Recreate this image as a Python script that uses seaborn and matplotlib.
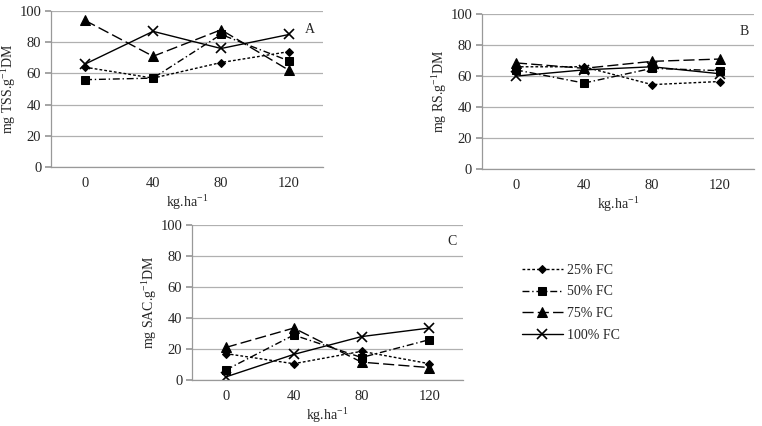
import numpy as np
import pandas as pd
import matplotlib
matplotlib.use('Agg')
import matplotlib.pyplot as plt
import seaborn as sns

# Data
doses = ['0', '40', '80', '120']
series = ['25% FC', '50% FC', '75% FC', '100% FC']

tss_25 = [64, 57, 67, 74]
tss_50 = [56, 57, 85, 68]
tss_75 = [94, 71, 88, 62]
tss_100 = [66, 87, 76, 85]

rs_25 = [66, 66, 54.5, 56.5]
rs_50 = [64, 55.5, 65, 63.5]
rs_75 = [68.5, 65, 69.5, 71]
rs_100 = [60, 64, 66, 61.5]

sac_25 = [17, 10.5, 18.5, 10.5]
sac_50 = [6.5, 29, 14.5, 26]
sac_75 = [21, 33.5, 11.5, 8]
sac_100 = [2, 16.5, 28, 33.5]

sns.set_theme(style='white')
plt.rcParams['font.family'] = ['Liberation Serif', 'DejaVu Serif']
plt.rcParams['mathtext.fontset'] = 'custom'
plt.rcParams['mathtext.rm'] = 'Liberation Serif'

styles = {
    '25% FC': dict(marker='D', linestyle=(0, (2, 1.5)), markersize=4.5),
    '50% FC': dict(marker='s', linestyle=(0, (5, 2, 1, 2)), markersize=6),
    '75% FC': dict(marker='^', linestyle=(0, (8, 3)), markersize=6.5),
    '100% FC': dict(marker='x', linestyle='-', markersize=7, markeredgewidth=1.2),
}

panels = [
    ('A', 'mg TSS.g$^{\\mathregular{-1}}$DM', [tss_25, tss_50, tss_75, tss_100], [0.067, 0.608, 0.357, 0.366], (0.97, 0.88)),
    ('B', 'mg RS.g$^{\\mathregular{-1}}$DM', [rs_25, rs_50, rs_75, rs_100], [0.6325, 0.603, 0.357, 0.364], (0.98, 0.89)),
    ('C', 'mg SAC.g$^{\\mathregular{-1}}$DM', [sac_25, sac_50, sac_75, sac_100], [0.252, 0.108, 0.356, 0.364], (0.975, 0.89)),
]

fig = plt.figure(figsize=(7.62, 4.26), dpi=100)
x = np.arange(len(doses))
handles = []
for letter, ylabel, values, pos, lpos in panels:
    ax = fig.add_axes(pos)
    for name, vals in zip(series, values):
        sns.lineplot(x=x, y=vals, ax=ax, color='black', linewidth=1.0,
                     markeredgecolor='black', label=name, **styles[name])
    if letter == 'A':
        handles, labels = ax.get_legend_handles_labels()
    ax.get_legend().remove()
    ax.set_xlim(-0.5, 3.5)
    ax.set_ylim(0, 100)
    ax.set_yticks([0, 20, 40, 60, 80, 100])
    ax.set_xticks(x)
    ax.set_xticklabels(doses)
    ax.set_xticks([-0.5, 0.5, 1.5, 2.5, 3.5], minor=True)
    ax.tick_params(axis='x', which='major', length=0, labelsize=10.5, pad=7)
    ax.tick_params(axis='x', which='minor', length=4, color='#999999', direction='out')
    ax.tick_params(axis='y', length=4, color='#999999', direction='out', labelsize=10.5, left=True, pad=3)
    ax.grid(axis='y', color='#b0b0b0', linewidth=0.9)
    ax.set_axisbelow(True)
    for s in ['top', 'right']:
        ax.spines[s].set_visible(False)
    for s in ['left', 'bottom']:
        ax.spines[s].set_color('#999999')
        ax.spines[s].set_linewidth(0.9)
    ax.set_xlabel('kg.ha$^{\\mathregular{-1}}$', fontsize=10, labelpad=2)
    ax.set_ylabel(ylabel, fontsize=10, labelpad=1)
    ax.text(lpos[0], lpos[1], letter, transform=ax.transAxes, fontsize=10, ha='right', va='center')

fig.legend(handles, series, loc='upper left', bbox_to_anchor=(0.668, 0.41),
           frameon=False, fontsize=10, handlelength=3.0, labelspacing=0.62,
           handletextpad=0.3)

fig.savefig('out.png', dpi=100, facecolor='white')
